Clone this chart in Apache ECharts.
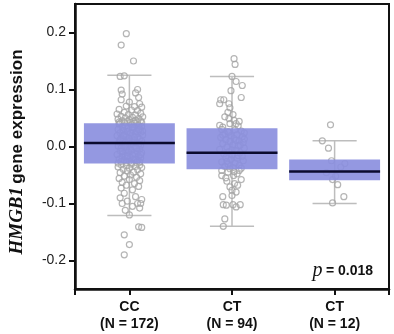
<!DOCTYPE html>
<html>
<head>
<meta charset="utf-8">
<script src="https://cdn.jsdelivr.net/npm/echarts@6/dist/echarts.min.js"></script>
<style>
html, body { margin: 0; background: #fff; }
#main { width: 394px; height: 334px; }
</style>
</head>
<body>
<div id="main"></div>
<script>
// groups on the x axis
var categories = ['CC', 'CT', 'CT'];
var counts = [172, 94, 12];
var yTicks = [-0.2, -0.1, 0, 0.1, 0.2];
var pValue = '0.018';

// [whisker low, q1, median, q3, whisker high]
var boxStats = [
    [-0.121, -0.030, 0.006, 0.041, 0.125],
    [-0.140, -0.040, -0.011, 0.032, 0.123],
    [-0.100, -0.059, -0.044, -0.023, 0.010]
];

// individual samples: [jitter, expression]
var ccPoints = [
    [-0.03, 0.198], [-0.08, 0.178], [0.04, 0.150],
    [-0.09, 0.123], [-0.05, 0.124],
    [-0.08, 0.099], [0.08, 0.100], [-0.07, 0.092], [0.06, 0.094], [0.09, 0.086], [-0.08, 0.082],
    [0.00, 0.078], [0.10, 0.075], [-0.03, 0.071], [0.05, 0.070], [0.12, 0.069],
    [-0.10, 0.065], [0.02, 0.064], [0.08, 0.063], [-0.05, 0.060], [0.11, 0.058],
    [-0.12, 0.057], [-0.01, 0.056], [0.06, 0.055], [-0.08, 0.053], [0.13, 0.052],
    [0.03, 0.051], [-0.04, 0.050], [0.09, 0.049], [-0.11, 0.048], [0.00, 0.047],
    [0.06, 0.046], [-0.07, 0.045], [0.11, 0.045], [-0.02, 0.044], [0.04, 0.044],
    [-0.10, 0.043], [0.08, 0.043], [-0.05, 0.042], [0.01, 0.042], [0.12, 0.042], [-0.09, 0.041], [0.05, 0.041],
    [-0.10, 0.039], [0.02, 0.038], [0.09, 0.037], [-0.04, 0.036], [0.12, 0.035], [-0.07, 0.034], [0.05, 0.033], [-0.01, 0.032], [0.10, 0.031], [-0.11, 0.030],
    [0.03, 0.029], [-0.06, 0.028], [0.07, 0.027], [-0.02, 0.026], [0.11, 0.025], [-0.09, 0.024], [0.01, 0.023], [0.06, 0.022], [-0.05, 0.021], [0.13, 0.020],
    [-0.12, 0.019], [0.04, 0.018], [-0.03, 0.017], [0.08, 0.016], [-0.08, 0.015], [0.00, 0.014], [0.10, 0.013], [-0.06, 0.012], [0.05, 0.011], [-0.01, 0.010],
    [0.12, 0.009], [-0.10, 0.008], [0.03, 0.008], [-0.04, 0.007], [0.07, 0.006], [-0.07, 0.006], [0.01, 0.005], [0.09, 0.004], [-0.02, 0.003], [0.11, 0.002],
    [-0.11, 0.001], [0.04, 0.000], [-0.05, -0.001], [0.06, -0.002], [-0.08, -0.003], [0.00, -0.004], [0.10, -0.005], [-0.03, -0.006], [0.02, -0.007], [-0.09, -0.008],
    [0.08, -0.009], [-0.01, -0.010], [0.12, -0.011], [-0.06, -0.012], [0.05, -0.013], [-0.12, -0.014], [0.03, -0.015], [-0.04, -0.016], [0.09, -0.017], [-0.07, -0.018],
    [0.01, -0.019], [0.11, -0.020], [-0.02, -0.021], [0.06, -0.022], [-0.10, -0.022], [0.04, -0.023], [-0.05, -0.024], [0.08, -0.025], [-0.08, -0.026], [0.00, -0.026],
    [0.10, -0.027], [-0.03, -0.028], [0.07, -0.028], [-0.11, -0.029], [0.02, -0.029], [0.13, 0.027], [-0.09, 0.012], [0.07, -0.003], [-0.06, 0.019], [0.03, 0.034],
    [-0.02, -0.017], [0.09, 0.029], [-0.07, -0.009], [0.05, 0.016], [-0.04, 0.001], [0.11, -0.014],
    [0.02, -0.031], [-0.08, -0.032], [0.10, -0.033], [-0.03, -0.034], [0.06, -0.035], [-0.11, -0.036], [0.12, -0.037], [0.00, -0.038], [-0.06, -0.040], [0.08, -0.041],
    [-0.02, -0.043], [0.04, -0.045], [-0.09, -0.046], [0.11, -0.048], [0.01, -0.050], [-0.05, -0.052], [0.07, -0.054], [-0.10, -0.056], [0.00, -0.058], [0.10, -0.060],
    [-0.07, -0.063], [0.05, -0.065], [-0.03, -0.068], [0.09, -0.070], [-0.08, -0.073], [0.03, -0.076], [-0.05, -0.082], [0.06, -0.088],
    [0.12, -0.093], [-0.07, -0.100], [0.08, -0.100], [0.11, -0.100], [-0.02, -0.096], [0.03, -0.105], [-0.09, -0.090], [0.10, -0.108], [-0.04, -0.112], [0.00, -0.120],
    [0.09, -0.141], [0.12, -0.142], [-0.05, -0.155], [0.00, -0.172], [-0.05, -0.190]
];

var ctPoints = [
    [0.02, 0.154], [0.03, 0.144], [0.00, 0.123], [0.04, 0.114], [0.10, 0.107], [-0.01, 0.098], [0.09, 0.086], [-0.11, 0.082],
    [-0.08, 0.082], [-0.12, 0.075], [-0.03, 0.075], [-0.02, 0.068], [-0.04, 0.060], [0.01, 0.056], [-0.03, 0.049], [0.02, 0.046],
    [0.04, 0.040], [-0.12, 0.037], [-0.02, 0.040], [0.07, 0.044], [-0.07, 0.052], [0.06, 0.036], [-0.09, 0.034],
    [-0.10, 0.030], [0.03, 0.029], [0.09, 0.027], [-0.04, 0.026], [0.12, 0.024], [-0.07, 0.022], [0.05, 0.021], [-0.01, 0.019], [0.10, 0.017], [-0.11, 0.016],
    [0.02, 0.014], [-0.06, 0.012], [0.07, 0.010], [-0.02, 0.009], [0.11, 0.007], [-0.09, 0.005], [0.01, 0.003], [0.06, 0.001], [-0.05, -0.001], [0.12, -0.003],
    [-0.12, -0.005], [0.04, -0.007], [-0.03, -0.009], [0.08, -0.011], [-0.08, -0.013], [0.00, -0.015], [0.10, -0.017], [-0.06, -0.019], [0.05, -0.021], [-0.01, -0.023],
    [0.11, -0.025], [-0.10, -0.027], [0.03, -0.029], [-0.04, -0.031], [0.07, -0.033], [-0.07, -0.035], [0.01, -0.037], [0.09, -0.038], [-0.02, -0.039], [0.06, -0.016],
    [-0.09, 0.020], [0.04, 0.011], [-0.05, -0.026], [0.08, 0.002], [-0.03, 0.025], [0.00, -0.006], [0.12, 0.013],
    [-0.10, -0.051], [0.015, -0.051], [-0.10, -0.042], [-0.04, -0.045], [0.07, -0.042], [-0.05, -0.061], [0.025, -0.065], [0.055, -0.068],
    [-0.02, -0.071], [0.00, -0.077], [0.04, -0.080], [-0.09, -0.088], [0.00, -0.086], [-0.085, -0.102], [-0.055, -0.103], [0.01, -0.102],
    [0.04, -0.106], [0.08, -0.102], [-0.07, -0.127], [-0.085, -0.140], [0.05, -0.048], [-0.06, -0.055], [0.09, -0.058], [0.02, -0.044]
];

var ct12Points = [
    [-0.04, 0.038], [-0.12, 0.010], [-0.06, -0.003], [-0.03, -0.025], [0.06, -0.036], [0.10, -0.030],
    [-0.08, -0.046], [0.01, -0.052], [-0.02, -0.058], [0.03, -0.067], [0.09, -0.088], [-0.02, -0.099]
];

var groupPoints = [ccPoints, ctPoints, ct12Points];

var BOX_HALF = 0.443;
var CAP_HALF = 0.215;

var scatterData = [];
groupPoints.forEach(function (pts, i) {
    pts.forEach(function (p) {
        scatterData.push([i + p[0], p[1]]);
    });
});
var boxData = boxStats.map(function (s, i) {
    return [i].concat(s);
});

function renderWhisker(params, api) {
    var i = api.value(0);
    var lo = api.value(1), hi = api.value(5);
    var style = {stroke: '#bdbdbd', lineWidth: 1.5};
    function seg(x1, y1, x2, y2) {
        var a = api.coord([x1, y1]), b = api.coord([x2, y2]);
        return {type: 'line', shape: {x1: a[0], y1: a[1], x2: b[0], y2: b[1]}, style: style};
    }
    return {
        type: 'group',
        children: [
            seg(i, lo, i, hi),
            seg(i - CAP_HALF, lo, i + CAP_HALF, lo),
            seg(i - CAP_HALF, hi, i + CAP_HALF, hi)
        ]
    };
}

function renderBox(params, api) {
    var i = api.value(0);
    var tl = api.coord([i - BOX_HALF, api.value(4)]);
    var br = api.coord([i + BOX_HALF, api.value(2)]);
    var m1 = api.coord([i - BOX_HALF, api.value(3)]);
    var m2 = api.coord([i + BOX_HALF, api.value(3)]);
    return {
        type: 'group',
        children: [{
            type: 'rect',
            shape: {x: tl[0], y: tl[1], width: br[0] - tl[0], height: br[1] - tl[1]},
            style: {fill: '#8b8fde', opacity: 0.92}
        }, {
            type: 'line',
            shape: {x1: m1[0], y1: m1[1], x2: m2[0], y2: m2[1]},
            style: {stroke: '#0b0b2e', lineWidth: 2.5}
        }]
    };
}

var chart = echarts.init(document.getElementById('main'));
var option = {
    animation: false,
    backgroundColor: '#fff',
    grid: {
        left: 61, right: 5, top: 4, bottom: 45,
        show: true, borderColor: '#111', borderWidth: 2
    },
    xAxis: {
        type: 'value',
        min: -0.53,
        max: 2.53,
        splitLine: {show: false},
        axisLine: {onZero: false, lineStyle: {color: '#111', width: 2.5}},
        axisTick: {
            customValues: [-0.53, 0, 1, 2, 2.53],
            length: 6,
            lineStyle: {color: '#111', width: 2}
        },
        axisLabel: {
            customValues: [0, 1, 2],
            margin: 10,
            lineHeight: 17,
            fontFamily: 'Liberation Sans',
            fontWeight: 'bold',
            fontSize: 14,
            color: '#111',
            formatter: function (v) {
                var i = Math.round(v);
                return categories[i] + '\n(N = ' + counts[i] + ')';
            }
        }
    },
    yAxis: {
        type: 'value',
        min: -0.25,
        max: 0.25,
        splitLine: {show: false},
        axisLine: {show: true, onZero: false, lineStyle: {color: '#111', width: 2.5}},
        axisTick: {
            show: true,
            customValues: yTicks,
            length: 6,
            lineStyle: {color: '#111', width: 2}
        },
        axisLabel: {
            customValues: yTicks,
            margin: 9,
            fontFamily: 'Liberation Sans',
            fontSize: 14,
            color: '#222',
            formatter: function (v) {
                return v.toFixed(1);
            }
        },
        name: '{i|HMGB1} {b|gene expression}',
        nameLocation: 'middle',
        nameGap: 48,
        nameTextStyle: {
            padding: [0, 11, 0, 0],
            rich: {
                i: {fontFamily: 'Liberation Serif', fontStyle: 'italic', fontWeight: 'bold', fontSize: 19, color: '#111'},
                b: {fontFamily: 'Liberation Sans', fontWeight: 'bold', fontSize: 17, color: '#111'}
            }
        }
    },
    graphic: [{
        type: 'text',
        x: 373,
        y: 271,
        style: {
            text: '{p|p} {b|= ' + pValue + '}',
            align: 'right',
            verticalAlign: 'middle',
            rich: {
                p: {fontFamily: 'Liberation Serif', fontStyle: 'italic', fontSize: 20, fill: '#111'},
                b: {fontFamily: 'Liberation Sans', fontWeight: 'bold', fontSize: 14, fill: '#111'}
            }
        }
    }],
    series: [{
        type: 'custom',
        z: 1,
        renderItem: renderWhisker,
        encode: {x: 0, y: [1, 2, 3, 4, 5]},
        data: boxData
    }, {
        type: 'scatter',
        z: 2,
        symbol: 'circle',
        symbolSize: 6,
        itemStyle: {color: 'rgba(255,255,255,0.15)', borderColor: '#a3a3a3', borderWidth: 1.2},
        data: scatterData
    }, {
        type: 'custom',
        z: 3,
        renderItem: renderBox,
        encode: {x: 0, y: [1, 2, 3, 4, 5]},
        data: boxData
    }]
};
chart.setOption(option);
</script>
</body>
</html>
